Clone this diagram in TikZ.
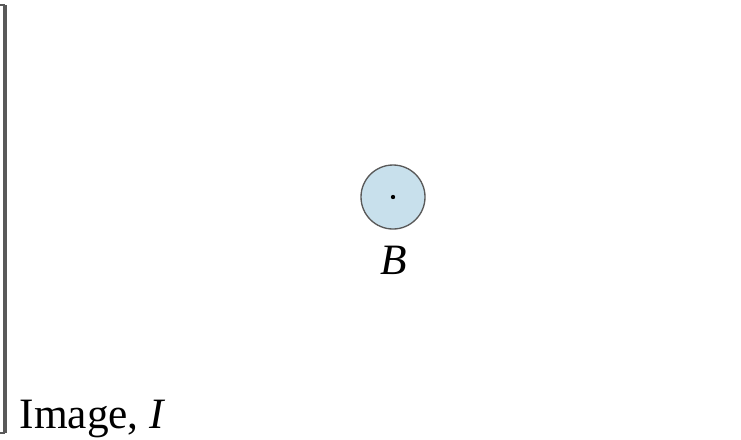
\documentclass[tikz,border=0pt]{standalone}
\usepackage{fontspec}
\setmainfont{Liberation Serif}
\begin{document}
\begin{tikzpicture}[
	x=0.3pt, y=-0.3pt,
	lens/.style={ circle, draw=black!65, thin, fill={rgb,255:red,200;green,224;blue,236}, inner sep=0pt, minimum size=19.2pt },
	centre/.style={ circle, fill, inner sep=0pt, minimum size=1.3pt },
	plane/.style={ draw=black!65, line width=1.2pt },
	lbl/.style={ font=\fontsize{13}{15}\selectfont, inner sep=0pt }
]
\useasboundingbox (0,0) rectangle (741,439);

\node at (393,197) (b) [lens] {};
\node at (393,197) (bc) [centre] {};
\node at (394,260) (lb) [lbl] {\textit{B}};

\coordinate (ptop) at (5,5);
\coordinate (pbot) at (5,433);
\draw[plane] (ptop) to (pbot);
\draw[draw=black!65, line width=0.6pt] (-2,5) to (ptop) (-2,433) to (pbot);
\node at (19,428) (li) [lbl,anchor=base west] {Image, \textit{I}};

\end{tikzpicture}
\end{document}
